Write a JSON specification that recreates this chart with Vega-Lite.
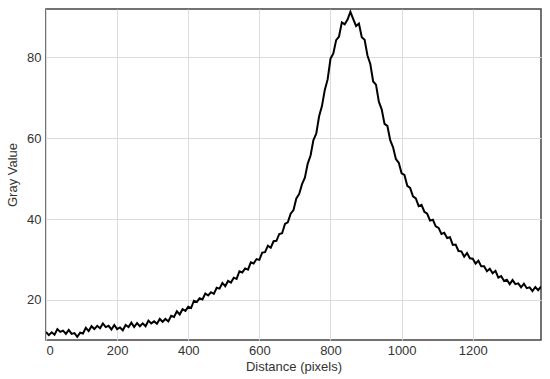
{
  "$schema": "https://vega.github.io/schema/vega-lite/v6.json",
  "width": 495,
  "height": 331,
  "autosize": {"type": "none"},
  "padding": {"left": 46, "top": 9, "right": 9, "bottom": 39},
  "config": {
    "view": {"stroke": "#444", "strokeWidth": 1.5},
    "axis": {
      "labelFont": "Liberation Sans",
      "titleFont": "Liberation Sans",
      "labelFontSize": 13,
      "titleFontSize": 13,
      "labelColor": "#333",
      "titleColor": "#333",
      "titleFontWeight": "normal",
      "gridColor": "#dcdcdc",
      "gridWidth": 1,
      "domain": false,
      "ticks": false
    }
  },
  "data": {
    "values": [
      {"distance": 0, "gray": 12.1}, {"distance": 8, "gray": 11.3}, {"distance": 16, "gray": 12.0}, {"distance": 24, "gray": 11.4},
      {"distance": 32, "gray": 12.8}, {"distance": 40, "gray": 12.1}, {"distance": 48, "gray": 12.4}, {"distance": 56, "gray": 11.6},
      {"distance": 64, "gray": 12.6}, {"distance": 72, "gray": 11.6}, {"distance": 80, "gray": 11.8}, {"distance": 88, "gray": 10.9},
      {"distance": 96, "gray": 11.9}, {"distance": 104, "gray": 11.7}, {"distance": 112, "gray": 13.1}, {"distance": 120, "gray": 12.3},
      {"distance": 128, "gray": 13.5}, {"distance": 136, "gray": 12.8}, {"distance": 144, "gray": 13.6}, {"distance": 152, "gray": 13.0},
      {"distance": 160, "gray": 14.2}, {"distance": 168, "gray": 13.3}, {"distance": 176, "gray": 13.6}, {"distance": 184, "gray": 12.7},
      {"distance": 192, "gray": 13.8}, {"distance": 200, "gray": 12.8}, {"distance": 208, "gray": 13.2}, {"distance": 216, "gray": 12.5},
      {"distance": 224, "gray": 13.8}, {"distance": 232, "gray": 13.3}, {"distance": 240, "gray": 14.4}, {"distance": 248, "gray": 13.3},
      {"distance": 256, "gray": 14.3}, {"distance": 264, "gray": 13.5}, {"distance": 272, "gray": 14.2}, {"distance": 280, "gray": 13.5},
      {"distance": 288, "gray": 14.9}, {"distance": 296, "gray": 14.2}, {"distance": 304, "gray": 14.7}, {"distance": 312, "gray": 14.1},
      {"distance": 320, "gray": 15.3}, {"distance": 328, "gray": 14.6}, {"distance": 336, "gray": 15.3}, {"distance": 344, "gray": 14.7},
      {"distance": 352, "gray": 16.1}, {"distance": 360, "gray": 15.8}, {"distance": 368, "gray": 17.2}, {"distance": 376, "gray": 16.4},
      {"distance": 384, "gray": 17.7}, {"distance": 392, "gray": 17.3}, {"distance": 400, "gray": 18.3}, {"distance": 408, "gray": 18.0},
      {"distance": 416, "gray": 19.8}, {"distance": 424, "gray": 19.5}, {"distance": 432, "gray": 20.4}, {"distance": 440, "gray": 20.1},
      {"distance": 448, "gray": 21.6}, {"distance": 456, "gray": 21.1}, {"distance": 464, "gray": 21.9}, {"distance": 472, "gray": 21.5},
      {"distance": 480, "gray": 23.0}, {"distance": 488, "gray": 22.8}, {"distance": 496, "gray": 24.2}, {"distance": 504, "gray": 23.4},
      {"distance": 512, "gray": 24.7}, {"distance": 520, "gray": 24.3}, {"distance": 528, "gray": 25.5}, {"distance": 536, "gray": 25.2},
      {"distance": 544, "gray": 27.1}, {"distance": 552, "gray": 26.8}, {"distance": 560, "gray": 27.8}, {"distance": 568, "gray": 27.5},
      {"distance": 576, "gray": 29.3}, {"distance": 584, "gray": 29.0}, {"distance": 592, "gray": 30.1}, {"distance": 600, "gray": 29.9},
      {"distance": 608, "gray": 31.7}, {"distance": 616, "gray": 31.8}, {"distance": 624, "gray": 33.4}, {"distance": 632, "gray": 32.9},
      {"distance": 640, "gray": 34.5}, {"distance": 648, "gray": 34.6}, {"distance": 656, "gray": 36.3}, {"distance": 664, "gray": 36.5},
      {"distance": 672, "gray": 38.8}, {"distance": 680, "gray": 39.2}, {"distance": 688, "gray": 41.3}, {"distance": 696, "gray": 42.2},
      {"distance": 704, "gray": 45.1}, {"distance": 712, "gray": 46.2}, {"distance": 720, "gray": 48.6}, {"distance": 728, "gray": 50.2},
      {"distance": 736, "gray": 53.7}, {"distance": 744, "gray": 55.7}, {"distance": 752, "gray": 59.5}, {"distance": 760, "gray": 61.1},
      {"distance": 768, "gray": 65.4}, {"distance": 776, "gray": 67.9}, {"distance": 784, "gray": 71.9}, {"distance": 792, "gray": 74.5},
      {"distance": 800, "gray": 79.6}, {"distance": 808, "gray": 80.9}, {"distance": 816, "gray": 84.2}, {"distance": 824, "gray": 85.1},
      {"distance": 832, "gray": 88.6}, {"distance": 840, "gray": 88.1}, {"distance": 848, "gray": 89.3}, {"distance": 856, "gray": 91.2},
      {"distance": 864, "gray": 89.4}, {"distance": 872, "gray": 87.7}, {"distance": 880, "gray": 88.3}, {"distance": 888, "gray": 84.9},
      {"distance": 896, "gray": 84.3}, {"distance": 904, "gray": 80.4}, {"distance": 912, "gray": 78.3}, {"distance": 920, "gray": 74.0},
      {"distance": 928, "gray": 73.2}, {"distance": 936, "gray": 69.0}, {"distance": 944, "gray": 67.1}, {"distance": 952, "gray": 63.5},
      {"distance": 960, "gray": 63.0}, {"distance": 968, "gray": 59.5}, {"distance": 976, "gray": 57.7}, {"distance": 984, "gray": 54.8},
      {"distance": 992, "gray": 53.9}, {"distance": 1000, "gray": 51.3}, {"distance": 1008, "gray": 50.9}, {"distance": 1016, "gray": 48.2},
      {"distance": 1024, "gray": 47.7}, {"distance": 1032, "gray": 45.6}, {"distance": 1040, "gray": 45.1}, {"distance": 1048, "gray": 43.2},
      {"distance": 1056, "gray": 43.5}, {"distance": 1064, "gray": 41.8}, {"distance": 1072, "gray": 41.3}, {"distance": 1080, "gray": 39.6},
      {"distance": 1088, "gray": 39.8}, {"distance": 1096, "gray": 38.2}, {"distance": 1104, "gray": 37.8}, {"distance": 1112, "gray": 36.3},
      {"distance": 1120, "gray": 36.6}, {"distance": 1128, "gray": 35.3}, {"distance": 1136, "gray": 35.5}, {"distance": 1144, "gray": 33.6},
      {"distance": 1152, "gray": 33.7}, {"distance": 1160, "gray": 32.1}, {"distance": 1168, "gray": 32.0}, {"distance": 1176, "gray": 30.7},
      {"distance": 1184, "gray": 31.6}, {"distance": 1192, "gray": 30.3}, {"distance": 1200, "gray": 30.2}, {"distance": 1208, "gray": 29.0},
      {"distance": 1216, "gray": 29.7}, {"distance": 1224, "gray": 28.3}, {"distance": 1232, "gray": 28.3}, {"distance": 1240, "gray": 27.1},
      {"distance": 1248, "gray": 27.7}, {"distance": 1256, "gray": 26.6}, {"distance": 1264, "gray": 27.2}, {"distance": 1272, "gray": 25.5},
      {"distance": 1280, "gray": 25.9}, {"distance": 1288, "gray": 24.7}, {"distance": 1296, "gray": 25.0}, {"distance": 1304, "gray": 23.9},
      {"distance": 1312, "gray": 24.9}, {"distance": 1320, "gray": 23.9}, {"distance": 1328, "gray": 24.1}, {"distance": 1336, "gray": 23.1},
      {"distance": 1344, "gray": 24.0}, {"distance": 1352, "gray": 22.9}, {"distance": 1360, "gray": 23.1}, {"distance": 1368, "gray": 22.2},
      {"distance": 1376, "gray": 23.2}, {"distance": 1384, "gray": 22.4}, {"distance": 1392, "gray": 23.3}
    ]
  },
  "mark": {"type": "line", "color": "black", "strokeWidth": 2, "clip": true},
  "encoding": {
    "x": {
      "field": "distance",
      "type": "quantitative",
      "scale": {"domain": [0, 1392], "nice": false, "zero": false},
      "axis": {"values": [0, 200, 400, 600, 800, 1000, 1200], "format": "d", "title": "Distance (pixels)", "labelPadding": 4, "titlePadding": 3}
    },
    "y": {
      "field": "gray",
      "type": "quantitative",
      "scale": {"domain": [10.1, 91.9], "nice": false, "zero": false},
      "axis": {"values": [20, 40, 60, 80], "title": "Gray Value", "labelPadding": 5, "titlePadding": 7}
    }
  }
}
